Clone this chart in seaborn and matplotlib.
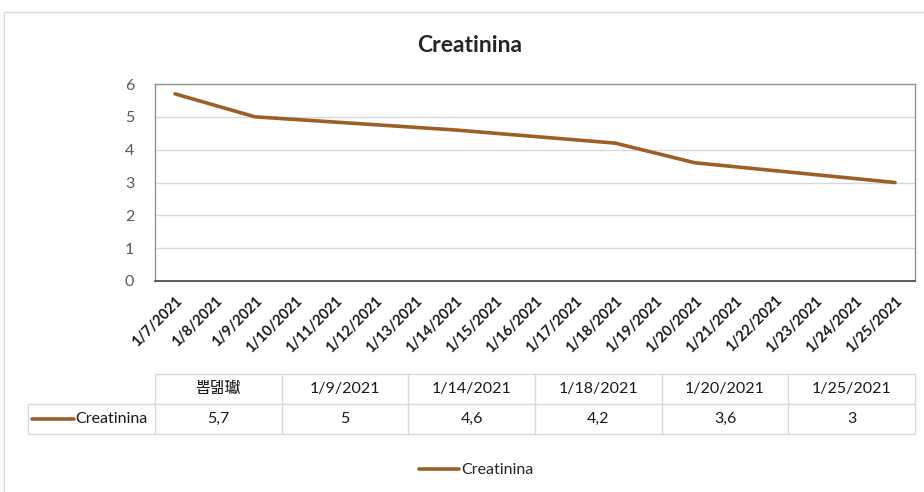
import pandas as pd
import matplotlib
matplotlib.use("Agg")
import matplotlib.pyplot as plt
import matplotlib.dates as mdates
from matplotlib.lines import Line2D
from matplotlib.patches import Rectangle
import seaborn as sns

# === Data ===
dates = ["2021-01-07", "2021-01-09", "2021-01-14", "2021-01-18", "2021-01-20", "2021-01-25"]
values = [5.7, 5.0, 4.6, 4.2, 3.6, 3.0]
table_headers = ["뽑뎲瓛", "1/9/2021", "1/14/2021", "1/18/2021", "1/20/2021", "1/25/2021"]
series_name = "Creatinina"
LINE_COLOR = "#9e5f27"
GRID = "#d9d9d9"

df = pd.DataFrame({"date": pd.to_datetime(dates), "value": values})

sns.set_theme(style="white")
plt.rcParams["font.family"] = ["Lato", "Noto Sans CJK KR", "DejaVu Sans"]

W, H = 924, 492
fig = plt.figure(figsize=(W / 100, H / 100), dpi=100)


def fx(px):
    return px / W


def fy(py):
    return 1 - py / H


# outer chart border
fig.add_artist(Rectangle((fx(4), fy(495)), fx(930), fy(12) - fy(495),
                         transform=fig.transFigure, fill=False,
                         edgecolor=GRID, lw=1))

ax = fig.add_axes([fx(155), fy(281), fx(915) - fx(155), fy(84) - fy(281)])
sns.lineplot(data=df, x="date", y="value", ax=ax, color=LINE_COLOR,
             lw=2.6, label=series_name, legend=False)

ax.set_ylim(0, 6)
ax.set_yticks(range(0, 7))
ax.set_xlim(pd.Timestamp("2021-01-06 12:00"), pd.Timestamp("2021-01-25 12:00"))
ax.xaxis.set_major_locator(mdates.DayLocator())
ax.xaxis.set_major_formatter(
    plt.FuncFormatter(lambda v, _: f"{mdates.num2date(v).month}/{mdates.num2date(v).day}/{mdates.num2date(v).year}"))
ax.set_xlabel("")
ax.set_ylabel("")
ax.grid(axis="y", color=GRID, lw=1)
ax.set_axisbelow(True)
for s in ["left", "top", "right"]:
    ax.spines[s].set_color("#8c9886")
    ax.spines[s].set_linewidth(1)
ax.spines["bottom"].set_color("#404040")
ax.spines["bottom"].set_linewidth(1.2)
ax.tick_params(axis="y", length=0, pad=15, labelsize=11.5, labelcolor="#595959")
ax.tick_params(axis="x", length=0, pad=9, labelsize=10.5, labelcolor="#1a1a1a")
plt.setp(ax.get_xticklabels(), rotation=45, ha="right", rotation_mode="anchor",
         fontweight="bold")

ax.set_title("Creatinina", fontsize=16.5, fontweight="bold", pad=0,
             x=(fx(470) - fx(155)) / (fx(915) - fx(155)), y=1.0 + (84 - 46) / 197,
             va="center")

# === Data table ===
col_left, col_right = 155, 915
n = len(table_headers)
cw = (col_right - col_left) / n
top, mid, bot = 374, 404, 434
tf = fig.transFigure
lines = [
    ((col_left, col_right), (top, top)),
    ((28, col_right), (mid, mid)),
    ((28, col_right), (bot, bot)),
    ((28, 28), (mid, bot)),
]
for i in range(n + 1):
    x = col_left + i * cw
    lines.append(((x, x), (top, bot)))
for xs, ys in lines:
    fig.add_artist(Line2D([fx(xs[0]), fx(xs[1])], [fy(ys[0]), fy(ys[1])],
                          transform=tf, color=GRID, lw=1))

for i, (h, v) in enumerate(zip(table_headers, values)):
    cx = col_left + (i + 0.5) * cw
    fig.text(fx(cx), fy((top + mid) / 2), h, ha="center", va="center",
             fontsize=11.5, color="#1a1a1a")
    txt = f"{v:g}".replace(".", ",")
    fig.text(fx(cx), fy((mid + bot) / 2), txt, ha="center", va="center",
             fontsize=11.5, color="#1a1a1a")

# legend key inside table
fig.add_artist(Line2D([fx(32), fx(74)], [fy(419), fy(419)], transform=tf,
                      color=LINE_COLOR, lw=2.6))
fig.text(fx(75), fy(419), series_name, ha="left", va="center",
         fontsize=11.5, color="#1a1a1a")

# bottom legend
handle = Line2D([], [], color=LINE_COLOR, lw=2.6)
fig.legend([handle], [series_name], loc="center left",
           bbox_to_anchor=(fx(405), fy(470)), frameon=False,
           handlelength=2.5, handletextpad=0.1, fontsize=11.5)

fig.savefig("out.png", dpi=100)
